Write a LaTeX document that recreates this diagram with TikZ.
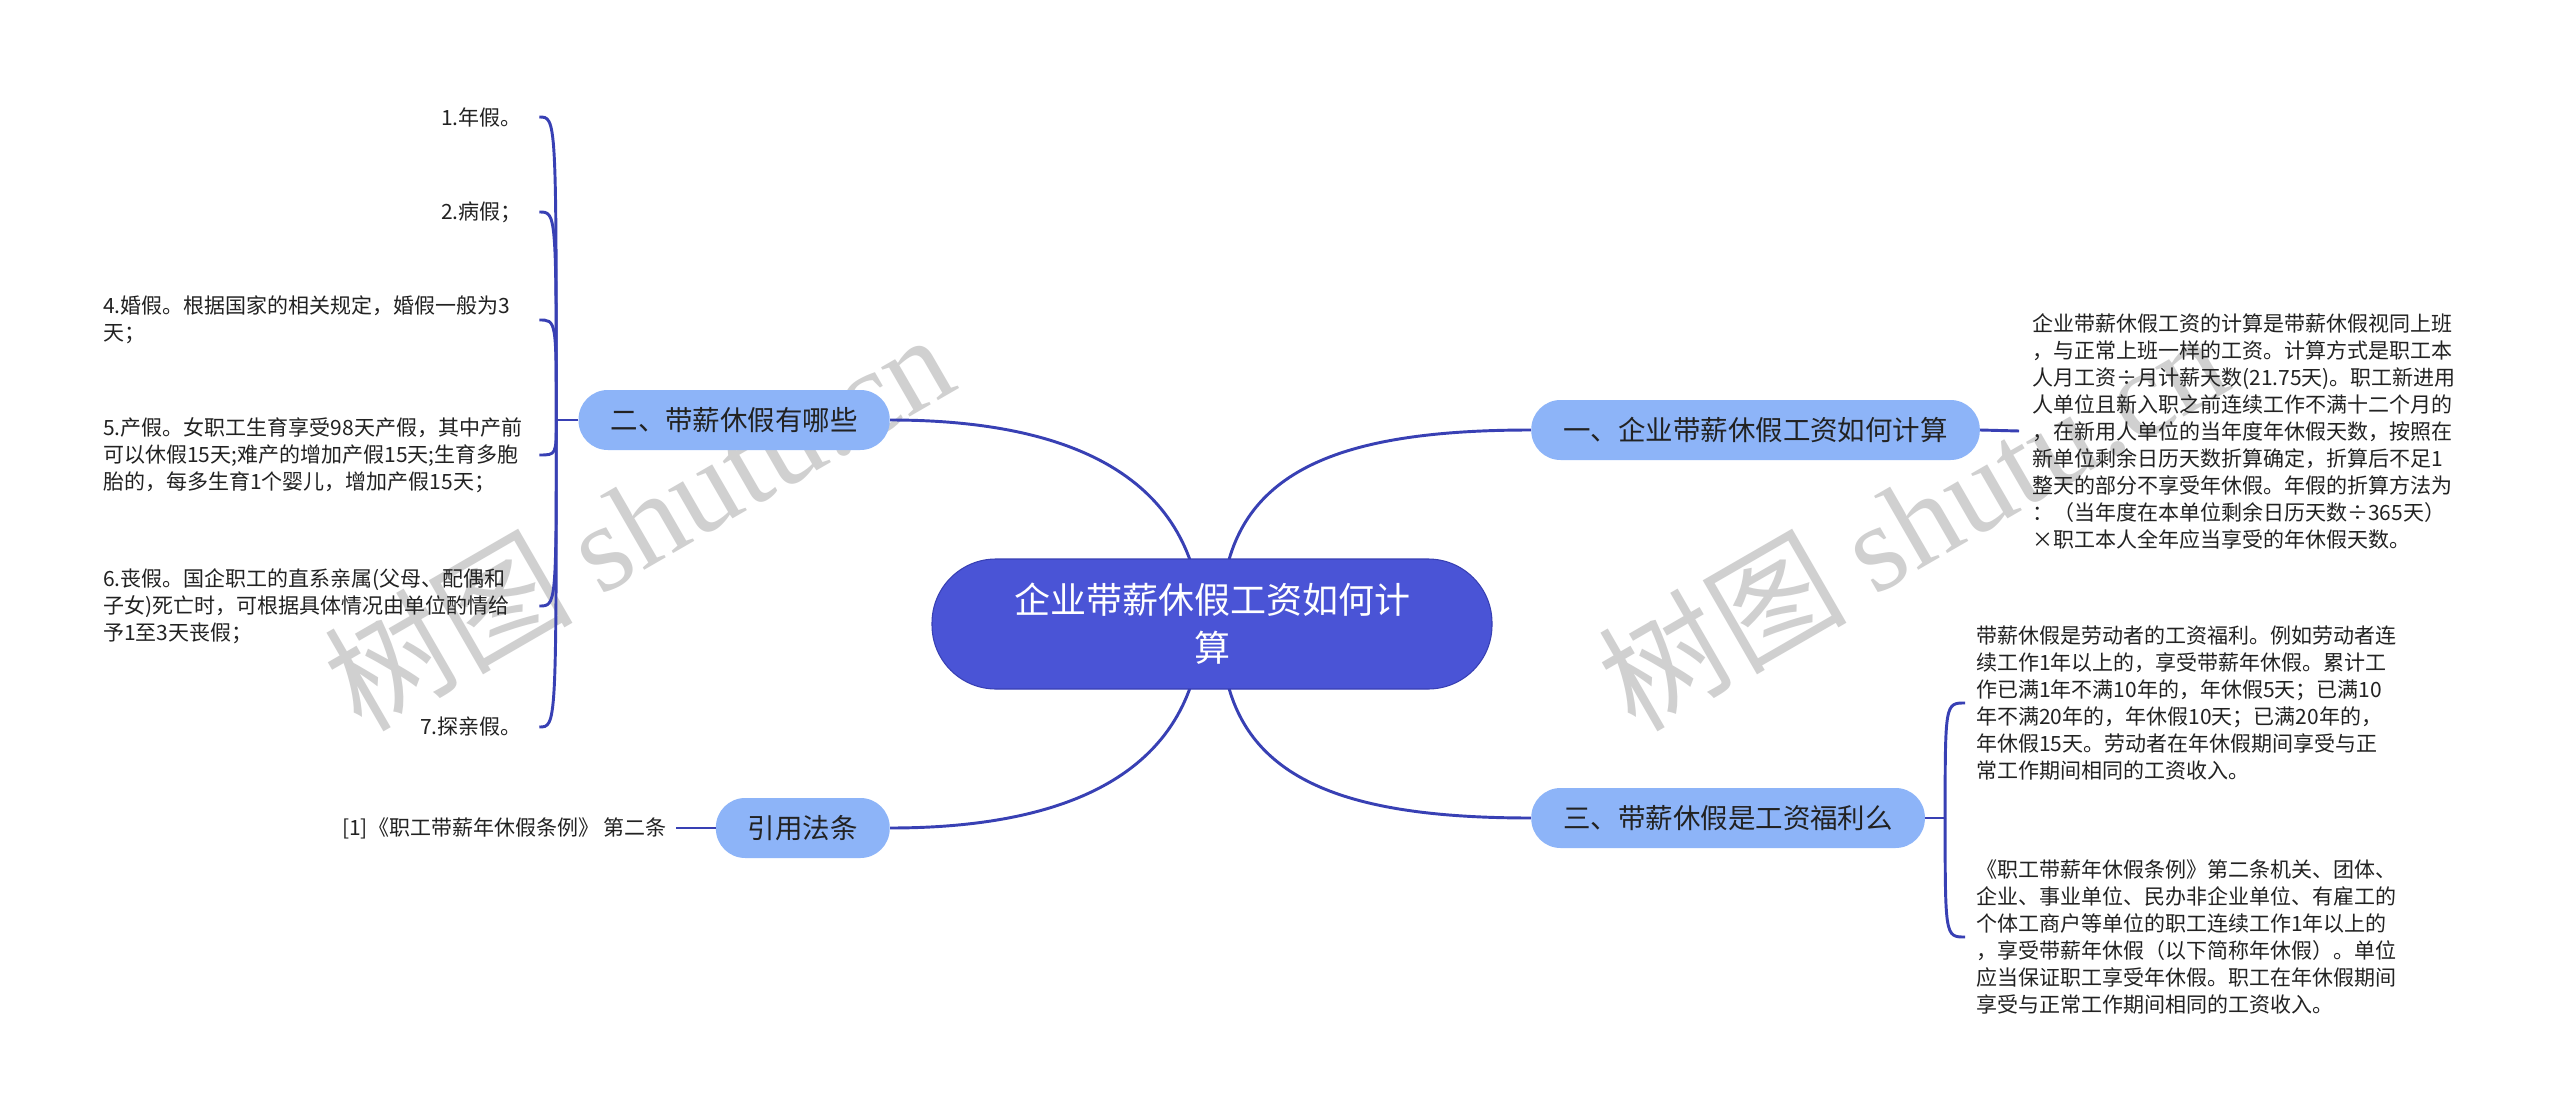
\documentclass[tikz,border=0pt]{standalone}
\usepackage{fontspec}
\setmainfont{Noto Sans CJK SC}
\newfontfamily\wmlatin{Liberation Serif}
\usetikzlibrary{positioning, calc, backgrounds}

\definecolor{linkblue}{RGB}{56,64,180}
\definecolor{rootblue}{RGB}{74,84,214}
\definecolor{branchblue}{RGB}{141,180,248}
\definecolor{inkgray}{RGB}{34,34,34}
\definecolor{wmgray}{RGB}{208,208,208}

\begin{document}
\begin{tikzpicture}[x=0.75pt, y=-0.75pt,
    link/.style={linkblue, line width=2.2pt},
    rootnode/.style={fill=rootblue, draw=linkblue, line width=0.8pt, rounded corners=48pt,
        minimum width=420pt, minimum height=97.5pt, align=center, text=white,
        font=\fontsize{27pt}{36pt}\selectfont},
    branch/.style={fill=branchblue, rounded corners=22pt, minimum height=45pt,
        inner xsep=24pt, inner ysep=0pt, text=inkgray,
        font=\fontsize{20.6pt}{24pt}\selectfont},
    leaf/.style={inner sep=0pt, align=left, text=inkgray,
        font=\fontsize{15.75pt}{20.25pt}\selectfont},
    wm/.style={text=wmgray, font=\fontsize{93pt}{93pt}\selectfont, rotate=30}]

    \useasboundingbox (0,0) rectangle (2560,1120);

    % main topics
    \node[rootnode] (root) at (1212,624) {企业带薪休假工资如何计\\算};
    \node[branch, anchor=west] (calc) at (1531,430) {一、企业带薪休假工资如何计算};
    \node[branch, anchor=east] (kinds) at (890,420) {二、带薪休假有哪些};
    \node[branch, anchor=west] (welfare) at (1531,818) {三、带薪休假是工资福利么};
    \node[branch, anchor=east] (law) at (890,828) {引用法条};

    % details of the calculation
    \node[leaf, anchor=west] (calcText) at (2032,431) {企业带薪休假工资的计算是带薪休假视同上班\\
        ，与正常上班一样的工资。计算方式是职工本\\
        人月工资÷月计薪天数(21.75天)。职工新进用\\
        人单位且新入职之前连续工作不满十二个月的\\
        ，在新用人单位的当年度年休假天数，按照在\\
        新单位剩余日历天数折算确定，折算后不足1\\
        整天的部分不享受年休假。年假的折算方法为\\
        ：（当年度在本单位剩余日历天数÷365天）\\
        ×职工本人全年应当享受的年休假天数。};

    % welfare
    \node[leaf, anchor=west] (welfareA) at (1976,703) {带薪休假是劳动者的工资福利。例如劳动者连\\
        续工作1年以上的，享受带薪年休假。累计工\\
        作已满1年不满10年的，年休假5天；已满10\\
        年不满20年的，年休假10天；已满20年的，\\
        年休假15天。劳动者在年休假期间享受与正\\
        常工作期间相同的工资收入。};
    \node[leaf, anchor=west] (welfareB) at (1976,937) {《职工带薪年休假条例》第二条机关、团体、\\
        企业、事业单位、民办非企业单位、有雇工的\\
        个体工商户等单位的职工连续工作1年以上的\\
        ，享受带薪年休假（以下简称年休假）。单位\\
        应当保证职工享受年休假。职工在年休假期间\\
        享受与正常工作期间相同的工资收入。};

    % kinds of paid leave
    \node[leaf, anchor=east] (kindA) at (522,117) {1.年假。};
    \node[leaf, anchor=east] (kindB) at (522,212) {2.病假；};
    \node[leaf, anchor=west] (kindC) at (103,320) {4.婚假。根据国家的相关规定，婚假一般为3\\天；};
    \node[leaf, anchor=west] (kindD) at (103,455) {5.产假。女职工生育享受98天产假，其中产前\\
        可以休假15天;难产的增加产假15天;生育多胞\\
        胎的，每多生育1个婴儿，增加产假15天；};
    \node[leaf, anchor=west] (kindE) at (103,606) {6.丧假。国企职工的直系亲属(父母、配偶和\\
        子女)死亡时，可根据具体情况由单位酌情给\\
        予1至3天丧假；};
    \node[leaf, anchor=east] (kindF) at (522,727) {7.探亲假。};

    % reference
    \node[leaf, anchor=east] (lawText) at (667,828) {[1]《职工带薪年休假条例》 第二条};

    \begin{scope}[on background layer]
        \fill[white] (0,0) rectangle (2560,1120);

        % watermark
        \node[wm] (wmLeft) at (638,520) {树图 {\wmlatin shutu.cn}};
        \node[wm] (wmRight) at (1912,520) {树图 {\wmlatin shutu.cn}};

        % root to topics
        \draw[link] ($(root.center)+(10,-24)$) .. controls (1232,470) and (1340,430) .. (calc.west);
        \draw[link] ($(root.center)+(10,24)$) .. controls (1232,778) and (1340,818) .. (welfare.west);
        \draw[link] ($(root.center)+(-10,0)$) .. controls (1195,470) and (1060,420) .. (kinds.east);
        \draw[link] ($(root.center)+(-10,0)$) .. controls (1195,778) and (1060,828) .. (law.east);
    \end{scope}

    % topic to details
    \draw[link] (calc.east) -- ($(calcText.west)+(-13,0)$);
    \draw[link] (law.west) -- ($(lawText.east)+(9,0)$);

    \coordinate (kindsFork) at ($(kinds.west)+(-22,0)$);
    \draw[link] (kinds.west) -- (kindsFork);
    \foreach \leafname in {kindA,kindB,kindC,kindD,kindE,kindF}
        \draw[link] (kindsFork) .. controls (kindsFork |- \leafname) .. ($(kindsFork |- \leafname)+(-17,0)$);

    \coordinate (welfareFork) at ($(welfare.east)+(20,0)$);
    \draw[link] (welfare.east) -- (welfareFork);
    \foreach \leafname in {welfareA,welfareB}
        \draw[link] (welfareFork) .. controls (welfareFork |- \leafname) .. ($(welfareFork |- \leafname)+(20,0)$);

\end{tikzpicture}
\end{document}
